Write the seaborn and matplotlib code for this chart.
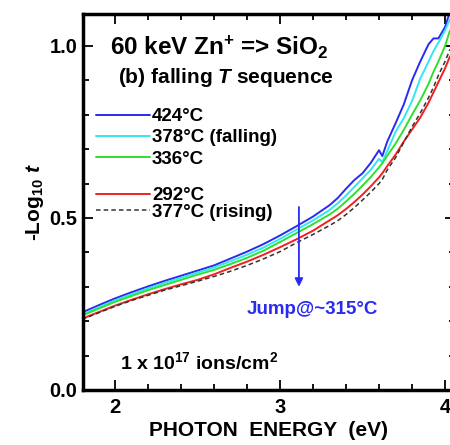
import numpy as np
import pandas as pd
import matplotlib
matplotlib.use("Agg")
import matplotlib.pyplot as plt
import seaborn as sns
from matplotlib.ticker import MultipleLocator

# photon energy grid (eV) and -log10 t for each anneal temperature
energy = [1.80, 1.90, 2.00, 2.10, 2.20, 2.30, 2.40, 2.50, 2.60, 2.70, 2.80, 2.90,
          3.00, 3.10, 3.20, 3.30, 3.35, 3.40, 3.45, 3.50, 3.55, 3.60, 3.62, 3.65,
          3.70, 3.75, 3.80, 3.85, 3.90, 3.93, 3.96, 4.00, 4.03]

t424 = [0.225, 0.246, 0.266, 0.284, 0.301, 0.317, 0.332, 0.347, 0.362, 0.382, 0.402, 0.424,
        0.449, 0.476, 0.504, 0.537, 0.558, 0.585, 0.610, 0.630, 0.660, 0.697, 0.680, 0.722,
        0.775, 0.830, 0.900, 0.955, 1.005, 1.022, 1.022, 1.055, 1.100]
t378f = [0.219, 0.240, 0.260, 0.278, 0.295, 0.311, 0.326, 0.341, 0.356, 0.374, 0.393, 0.414,
         0.439, 0.466, 0.493, 0.523, 0.543, 0.565, 0.590, 0.615, 0.640, 0.672, 0.662, 0.695,
         0.750, 0.790, 0.840, 0.905, 0.955, 0.985, 1.010, 1.045, 1.078]
t336 = [0.216, 0.236, 0.256, 0.273, 0.290, 0.305, 0.320, 0.335, 0.349, 0.366, 0.384, 0.405,
        0.430, 0.456, 0.482, 0.510, 0.527, 0.548, 0.570, 0.594, 0.619, 0.647, 0.659, 0.681,
        0.716, 0.756, 0.800, 0.842, 0.890, 0.925, 0.955, 1.000, 1.045]
t292 = [0.207, 0.226, 0.245, 0.262, 0.278, 0.293, 0.307, 0.320, 0.336, 0.355, 0.373, 0.393,
        0.415, 0.438, 0.463, 0.493, 0.508, 0.526, 0.546, 0.568, 0.592, 0.618, 0.630, 0.651,
        0.684, 0.722, 0.757, 0.792, 0.835, 0.865, 0.895, 0.935, 0.970]
t377r = [0.205, 0.224, 0.243, 0.260, 0.275, 0.290, 0.303, 0.316, 0.330, 0.345, 0.362, 0.381,
         0.402, 0.428, 0.452, 0.478, 0.492, 0.510, 0.530, 0.552, 0.575, 0.600, 0.612, 0.640,
         0.675, 0.720, 0.765, 0.805, 0.850, 0.880, 0.915, 0.955, 0.990]

labels_top = ["424\u00b0C", "378\u00b0C (falling)", "336\u00b0C"]
labels_bot = ["292\u00b0C", "377\u00b0C (rising)"]

# jump arrow (eV, -log10 t)
arrow_x = 3.115
arrow_from = 0.532
arrow_to = 0.300

sns.set_style("ticks")
plt.rcParams['font.family'] = ['Liberation Sans', 'DejaVu Sans']
plt.rcParams['font.weight'] = 'bold'
plt.rcParams['text.color'] = 'black'
plt.rcParams['axes.labelcolor'] = 'black'
plt.rcParams['xtick.color'] = 'black'
plt.rcParams['ytick.color'] = 'black'
plt.rcParams['axes.edgecolor'] = 'black'
plt.rcParams['mathtext.fontset'] = 'custom'
plt.rcParams['mathtext.rm'] = 'Liberation Sans:bold'
plt.rcParams['mathtext.bf'] = 'Liberation Sans:bold'
plt.rcParams['mathtext.it'] = 'Liberation Sans:bold:italic'
plt.rcParams['mathtext.default'] = 'bf'

fig = plt.figure(figsize=(4.5, 4.45), dpi=100)
ax = fig.add_axes([0.184, 0.1236, 0.827, 0.845])

df = pd.DataFrame({"E": energy, "424": t424, "378f": t378f, "336": t336,
                   "292": t292, "377r": t377r})

h1 = sns.lineplot(data=df, x="E", y="424", color="#2a2af0", lw=1.4, ax=ax).lines[-1]
h2 = sns.lineplot(data=df, x="E", y="378f", color="#30e8f0", lw=1.4, ax=ax).lines[-1]
h3 = sns.lineplot(data=df, x="E", y="336", color="#2ee02e", lw=1.4, ax=ax).lines[-1]
h4 = sns.lineplot(data=df, x="E", y="292", color="#f02020", lw=1.4, ax=ax).lines[-1]
h5 = sns.lineplot(data=df, x="E", y="377r", color="#333333", lw=1.1,
                  linestyle=(0, (3, 2)), ax=ax).lines[-1]

ax.set_xlim(1.806, 4.06)
ax.set_ylim(0, 1.093)
ax.xaxis.set_major_locator(MultipleLocator(1))
ax.xaxis.set_minor_locator(MultipleLocator(0.2))
ax.yaxis.set_major_locator(MultipleLocator(0.5))
ax.yaxis.set_minor_locator(MultipleLocator(0.1))
ax.tick_params(which='both', direction='in', top=True, right=True, width=1.3,
               labelsize=14.5)
ax.tick_params(axis='x', pad=6)
ax.tick_params(axis='y', pad=4)
ax.tick_params(which='major', length=7)
ax.tick_params(which='minor', length=4)
for s in ax.spines.values():
    s.set_linewidth(2.5)
for lab in ax.get_xticklabels() + ax.get_yticklabels():
    lab.set_fontweight('bold')

ax.set_xlabel("PHOTON  ENERGY  (eV)", fontsize=15, fontweight='bold', labelpad=3)
ax.set_ylabel("-Log$_{10}$ $\\mathit{t}$", fontsize=15, fontweight='bold', labelpad=2)

leg1 = ax.legend([h1, h2, h3], labels_top, loc='upper left', bbox_to_anchor=(0.035, 0.75),
                 frameon=False, fontsize=13.5, handlelength=2.9, handletextpad=0.1,
                 labelspacing=0.22, borderpad=0, borderaxespad=0)
ax.add_artist(leg1)
ax.legend([h4, h5], labels_bot, loc='upper left', bbox_to_anchor=(0.035, 0.54),
          frameon=False, fontsize=13.5, handlelength=2.9, handletextpad=0.1,
          labelspacing=-0.02, borderpad=0, borderaxespad=0)

ax.text(0.073, 0.912, "60 keV Zn$^{+}$ => SiO$_{2}$", transform=ax.transAxes,
        fontsize=17.5, fontweight='bold', va='center', ha='left')
ax.text(0.095, 0.83, "(b) falling $\\mathit{T}$ sequence", transform=ax.transAxes,
        fontsize=15, fontweight='bold', va='center', ha='left')
ax.annotate("", xy=(arrow_x, arrow_to), xytext=(arrow_x, arrow_from),
            arrowprops=dict(arrowstyle='-|>', color='#2a2af0', lw=1.3,
                            mutation_scale=12, shrinkA=0, shrinkB=0))
ax.text(0.44, 0.213, "Jump@~315\u00b0C", transform=ax.transAxes, color='#2a2af0',
        fontsize=13.5, fontweight='bold', va='center', ha='left')
ax.text(0.1, 0.075, "1 x 10$^{17}$ ions/cm$^{2}$", transform=ax.transAxes,
        fontsize=14, fontweight='bold', va='center', ha='left')

fig.savefig("out.png", dpi=100)
